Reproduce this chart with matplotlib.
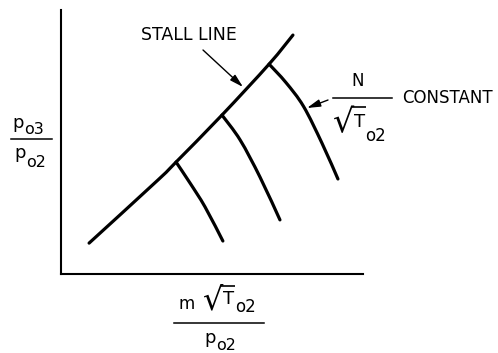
import matplotlib
matplotlib.use("Agg")
import numpy as np
import matplotlib.pyplot as plt
from matplotlib.lines import Line2D
from matplotlib.path import Path
from matplotlib.patches import PathPatch

plt.rcParams["font.family"] = ["DejaVu Sans"]

# Schematic compressor map, arbitrary units (0-100 on both axes)
stall_x = [9.3, 32.1, 38.1, 53.3, 68.9, 76.8]
stall_y = [11.7, 35.6, 42.4, 60.2, 79.5, 90.5]

# constant corrected-speed lines, each starting on the stall line
speed_low_x = [38.1, 42.7, 47.7, 53.6]
speed_low_y = [42.4, 34.5, 25.4, 12.5]
speed_mid_x = [53.3, 59.3, 65.9, 72.5]
speed_mid_y = [60.2, 50.8, 36.7, 20.5]
speed_high_x = [68.9, 74.5, 80.3, 86.4, 91.7]
speed_high_y = [79.5, 72.5, 63.5, 49.6, 36.0]


def smooth_path(xs, ys):
    """Cubic Bezier path passing through every point (Catmull-Rom tangents)."""
    P = np.column_stack([xs, ys]).astype(float)
    n = len(P)
    verts = [P[0]]
    codes = [Path.MOVETO]
    for i in range(n - 1):
        p0 = P[i - 1] if i > 0 else P[i]
        p1, p2 = P[i], P[i + 1]
        p3 = P[i + 2] if i + 2 < n else P[i + 1]
        verts += [p1 + (p2 - p0) / 6.0, p2 - (p3 - p1) / 6.0, p2]
        codes += [Path.CURVE4] * 3
    return Path(verts, codes)


W, H = 498, 353
fig = plt.figure(figsize=(W / 100, H / 100), dpi=100)
fig.patch.set_facecolor("white")

ax = fig.add_axes([61 / W, 1 - 274 / H, 302 / W, 264 / H])
ax.set_xlim(0, 100)
ax.set_ylim(0, 100)
for s in ("top", "right"):
    ax.spines[s].set_visible(False)
for s in ("left", "bottom"):
    ax.spines[s].set_linewidth(1.5)
    ax.spines[s].set_color("black")
ax.set_xticks([])
ax.set_yticks([])
ax.patch.set_alpha(0)

for xs, ys in ((stall_x, stall_y), (speed_low_x, speed_low_y),
               (speed_mid_x, speed_mid_y), (speed_high_x, speed_high_y)):
    ax.add_patch(PathPatch(smooth_path(xs, ys), fill=False, edgecolor="black",
                           lw=2.3, capstyle="round", joinstyle="round"))

# overlay in pixel units (y downwards) for the lettering
ov = fig.add_axes([0, 0, 1, 1])
ov.set_xlim(0, W)
ov.set_ylim(H, 0)
ov.axis("off")
ov.patch.set_alpha(0)

renderer = fig.canvas.get_renderer()


def bbox_px(t):
    bb = t.get_window_extent(renderer)
    return bb.x0, H - bb.y1, bb.x1, H - bb.y0  # left, top, right, bottom


def chain(parts, x_left):
    """Place text pieces side by side; parts = (text, size, baseline_y, gap)."""
    out = []
    x = x_left
    for s, fs, yb, gap in parts:
        t = ov.text(x + gap, yb, s, fontsize=fs, ha="left", va="baseline")
        l, tp, r, b = bbox_px(t)
        x = x + gap + (r - l)
        out.append(t)
    return out


def vinculum(rad, tail, extra=1.0):
    l, tp, r, b = bbox_px(rad)
    tl, ttp, tr, tb = bbox_px(tail)
    ov.add_line(Line2D([r - 3.0, tr + extra], [tp + 1.3, tp + 1.3],
                       color="black", lw=1.2, solid_capstyle="butt"))


bar_kw = dict(color="black", lw=1.1)
arrow_kw = dict(arrowstyle="-|>,head_length=0.8,head_width=0.22",
                color="black", lw=1.0, shrinkA=0, shrinkB=0)

# stall line label
ov.text(189, 40, "STALL LINE", fontsize=12.5, ha="center", va="baseline")
ov.annotate("", xy=(243, 87), xytext=(203, 50), arrowprops=arrow_kw)

# N / sqrt(T_o2) constant label
ov.text(358, 86, "N", fontsize=12, ha="center", va="baseline")
ov.add_line(Line2D([333, 392], [98, 98], **bar_kw))
rad, T, sub = chain([("\u221a", 24, 132, 0), ("T", 13, 127, 0),
                     ("o2", 12, 141, 0)], 333)
vinculum(rad, T)
ov.text(402, 103, "CONSTANT", fontsize=12, ha="left", va="baseline")
ov.annotate("", xy=(307, 108), xytext=(328, 100), arrowprops=arrow_kw)

# y-axis label: p_o3 / p_o2
chain([("p", 13, 128, 0), ("o3", 11.5, 134, 1)], 12)
ov.add_line(Line2D([11, 52], [139, 139], **bar_kw))
chain([("p", 13, 158, 0), ("o2", 11.5, 167, 1)], 14)

# x-axis label: m sqrt(T_o2) / p_o2
rad2, T2, sub2 = chain([("m", 12, 309, 0), ("\u221a", 23, 309, 7),
                        ("T", 13, 304, 0), ("o2", 12, 312, 1)], 179)[1:]
vinculum(rad2, T2)
ov.add_line(Line2D([174, 264], [323, 323], **bar_kw))
chain([("p", 13, 343, 0), ("o2", 11.5, 350, 1)], 204)

fig.savefig("out.png", dpi=100, facecolor="white")
